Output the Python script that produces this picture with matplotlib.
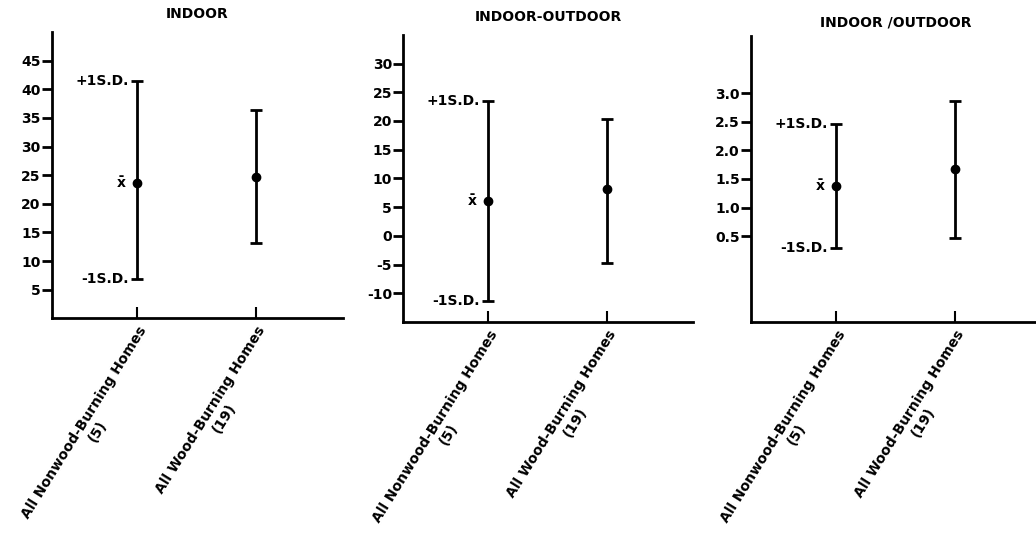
import matplotlib.pyplot as plt

groups = ["All Nonwood-Burning Homes\n(5)", "All Wood-Burning Homes\n(19)"]
titles = ["INDOOR", "INDOOR-OUTDOOR", "INDOOR /OUTDOOR"]

# mean, +1 S.D. and -1 S.D.
indoor_mean = [23.7, 24.7]
indoor_hi = [41.5, 36.4]
indoor_lo = [6.8, 13.2]

diff_mean = [6.0, 8.1]
diff_hi = [23.4, 20.4]
diff_lo = [-11.4, -4.8]

ratio_mean = [1.37, 1.68]
ratio_hi = [2.46, 2.86]
ratio_lo = [0.29, 0.47]

yticks = [[5, 10, 15, 20, 25, 30, 35, 40, 45],
          [-10, -5, 0, 5, 10, 15, 20, 25, 30],
          [0.5, 1.0, 1.5, 2.0, 2.5, 3.0]]
ylims = [(0, 50), (-15, 35), (-1, 4)]
tick_fmt = ["{:g}", "{:g}", "{:.1f}"]

means = [indoor_mean, diff_mean, ratio_mean]
highs = [indoor_hi, diff_hi, ratio_hi]
lows = [indoor_lo, diff_lo, ratio_lo]

plt.rcParams['font.family'] = 'DejaVu Sans'
plt.rcParams['font.weight'] = 'bold'

fig = plt.figure(figsize=(10.36, 5.44), dpi=100)
boxes = [[0.050, 0.415, 0.281, 0.526],
         [0.389, 0.408, 0.280, 0.528],
         [0.725, 0.408, 0.280, 0.526]]
title_pad = [10, 10, 7]

x = [1, 2]
for i, box in enumerate(boxes):
    ax = fig.add_axes(box)
    m, hi, lo = means[i], highs[i], lows[i]
    err = [[m[k] - lo[k] for k in range(2)], [hi[k] - m[k] for k in range(2)]]
    ax.errorbar(x, m, yerr=err, fmt='o', color='black', ms=6,
                elinewidth=2, capsize=4, capthick=2)
    ax.set_xlim(0.28, 2.73)
    ax.set_ylim(*ylims[i])
    ax.set_yticks(yticks[i])
    ax.set_yticklabels([tick_fmt[i].format(v) for v in yticks[i]])
    ax.set_xticks(x)
    ax.set_xticklabels(groups, rotation=58, ha='right', va='top',
                       rotation_mode='anchor', multialignment='center',
                       fontsize=10)
    ax.spines[['top', 'right']].set_visible(False)
    ax.spines[['left', 'bottom']].set_linewidth(2)
    ax.tick_params(axis='y', direction='out', length=7, width=2,
                   labelsize=10, pad=1)
    ax.tick_params(axis='x', direction='in', length=8, width=1.5, pad=4)
    ax.set_title(titles[i], fontsize=10, fontweight='bold', pad=title_pad[i])

    # labels on the first group
    ax.annotate("+1S.D.", (x[0], hi[0]), xytext=(-6, 0),
                textcoords='offset points', ha='right', va='center', fontsize=10)
    ax.annotate("-1S.D.", (x[0], lo[0]), xytext=(-6, 0),
                textcoords='offset points', ha='right', va='center', fontsize=10)
    ax.annotate("x\u0304", (x[0], m[0]), xytext=(-8, 0),
                textcoords='offset points', ha='right', va='center', fontsize=10)

fig.savefig("out.png", dpi=100)
